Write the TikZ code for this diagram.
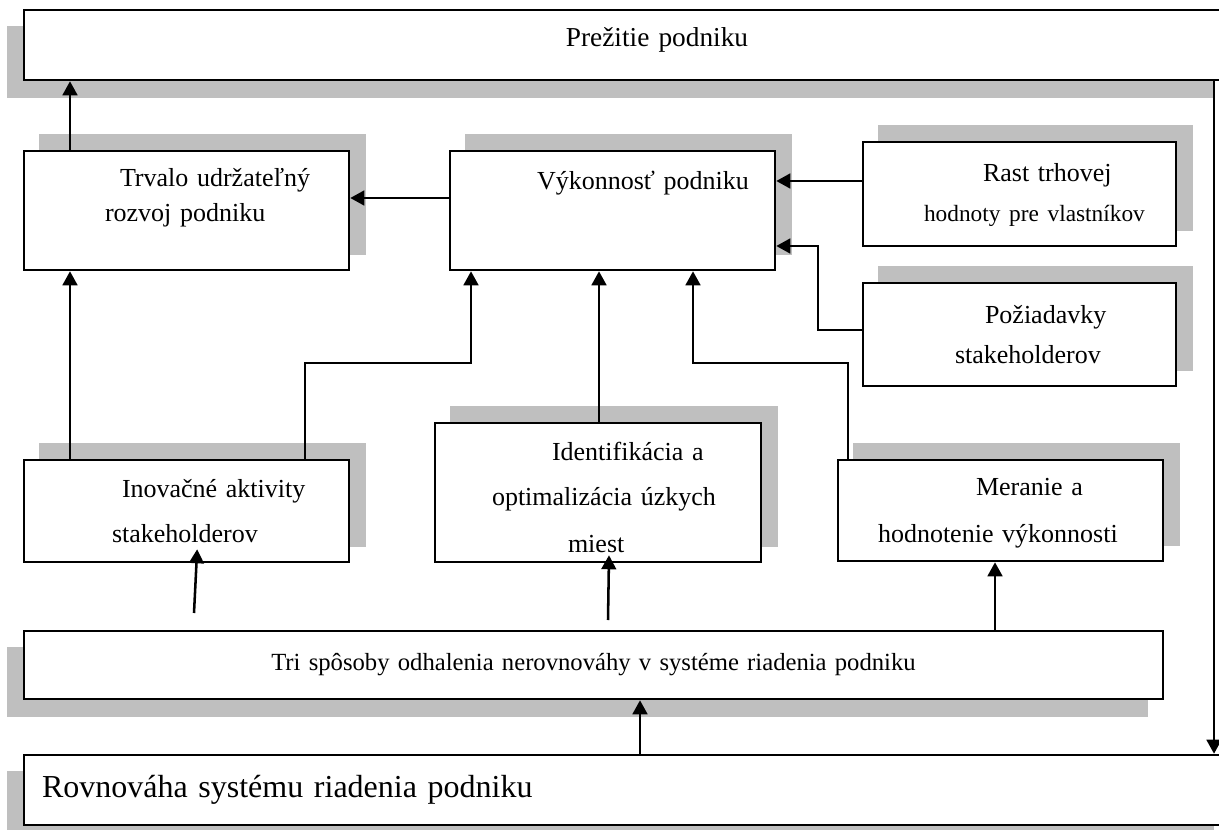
\documentclass[tikz,border=0pt]{standalone}
\usepackage{fontspec}
\setmainfont{Liberation Serif}
\usetikzlibrary{arrows.meta,backgrounds}
\newcommand{\blokfont}{\fontsize{19.5}{31.5}\selectfont}
\tikzset{blok/.style 2 args={draw,line width=1.9pt,fill=white,inner sep=0pt,align=left,
    text width=#1,minimum height=#2,text height=14pt,font=\blokfont},
  tien/.style={fill=black!25},
  sip/.style={-{Triangle[length=10.5pt,width=11pt]},line width=1.9pt}}

\begin{document}
\begin{tikzpicture}[x=0.75pt,y=-0.75pt]
\useasboundingbox (0,0) rectangle (1219,830);
\node[blok={903.75pt}{52.5pt},align=center,text depth=11pt,font=\fontsize{20.5}{25}\selectfont] (prezitie) at (626.5,45) {\hspace*{45.75pt}Prežitie podniku};
\node[blok={243.75pt}{89.25pt},text depth=49.25pt] (trvalo) at (186.5,210.5) {\hspace*{72pt}Trvalo udržateľný\\[-5.25pt]\hspace*{60.75pt}rozvoj podniku};
\node[blok={243.75pt}{89.25pt},text depth=44.75pt] (vykon) at (612.5,210.5) {\hspace*{65.25pt}Výkonnosť podniku};
\node[blok={234.75pt}{78pt},text depth=32pt] (rast) at (1019.5,194) {\hspace*{90pt}Rast trhovej\\[-1.5pt]\hspace*{45.75pt}{\fontsize{17.5}{31.5}\selectfont hodnoty pre vlastníkov}};
\node[blok={234.75pt}{77.25pt},text depth=31.25pt] (poziad) at (1019.5,334.5) {\hspace*{91.5pt}Požiadavky\\[-1.5pt]\hspace*{69pt}stakeholderov};
\node[blok={243.75pt}{76.5pt},text depth=35pt] (inov) at (186.5,511) {\hspace*{73.5pt}Inovačné aktivity\\[2.25pt]\hspace*{66pt}stakeholderov};
\node[blok={244.5pt}{104.25pt},text depth=62.75pt] (ident) at (598,492.5) {\hspace*{87.75pt}Identifikácia a\\[2.25pt]\hspace*{42.75pt}optimalizácia úzkych\\[3.75pt]\hspace*{99.75pt}miest};
\node[blok={243.75pt}{75.75pt},text depth=37.25pt] (meran) at (1000.5,510.5) {\hspace*{103.5pt}Meranie a\\[3.75pt]\hspace*{30pt}hodnotenie výkonnosti};
\node[blok={854.25pt}{51pt},align=center,text height=,font=\fontsize{18.5}{22}\selectfont] (tri) at (593.5,665) {Tri spôsoby odhalenia nerovnováhy v systéme riadenia podniku};
\node[blok={903.75pt}{52.5pt},text height=,font=\fontsize{24}{29}\selectfont] (rovn) at (626.5,790) {\hspace*{13.5pt}Rovnováha systému riadenia podniku};

\begin{scope}[on background layer]
\foreach \n in {prezitie,tri,rovn}
  \fill[tien] ([shift={(-16,17)}]\n.north west) rectangle ([shift={(-16,17)}]\n.south east);
\foreach \n in {trvalo,vykon,rast,poziad,inov,ident,meran}
  \fill[tien] ([shift={(16,-16)}]\n.north west) rectangle ([shift={(16,-16)}]\n.south east);
\end{scope}

\coordinate (kA) at (70,0);
\coordinate (kB) at (305,363);
\coordinate (kC) at (471,363);
\coordinate (kD) at (599,0);
\coordinate (kE) at (693,363);
\coordinate (kF) at (848,363);
\coordinate (kG) at (995,0);
\coordinate (kH) at (640,0);
\coordinate (kI) at (1214,0);
\coordinate (kJ) at (818,0);
\coordinate (rA) at (0,198);
\coordinate (rB) at (0,181);
\coordinate (rC) at (0,330);
\coordinate (rD) at (0,246);
\coordinate (volA) at (194,613);
\coordinate (volB) at (608,620);

\draw[sip] (trvalo.north -| kA) -- (prezitie.south -| kA);
\draw[sip] (vykon.west |- rA) -- (trvalo.east |- rA);
\draw[sip] (rast.west |- rB) -- (vykon.east |- rB);
\draw[sip] (poziad.west |- rC) -- (kJ |- rC) -- (kJ |- rD) -- (vykon.east |- rD);
\draw[sip] (inov.north -| kA) -- (trvalo.south -| kA);
\draw[sip] (inov.north -| kB) -- (kB) -- (kC) -- (vykon.south -| kC);
\draw[sip] (ident.north -| kD) -- (vykon.south -| kD);
\draw[sip] (meran.north -| kF) -- (kF) -- (kE) -- (vykon.south -| kE);
\draw[sip] (volA) -- ([shift={(8pt,10.5pt)}]inov.south);
\draw[sip] (volB) -- ([shift={(8.25pt,6pt)}]ident.south);
\draw[sip] (tri.north -| kG) -- (meran.south -| kG);
\draw[sip] (rovn.north -| kH) -- (tri.south -| kH);
\draw[sip] (prezitie.south -| kI) -- (rovn.north -| kI);
\end{tikzpicture}
\end{document}
